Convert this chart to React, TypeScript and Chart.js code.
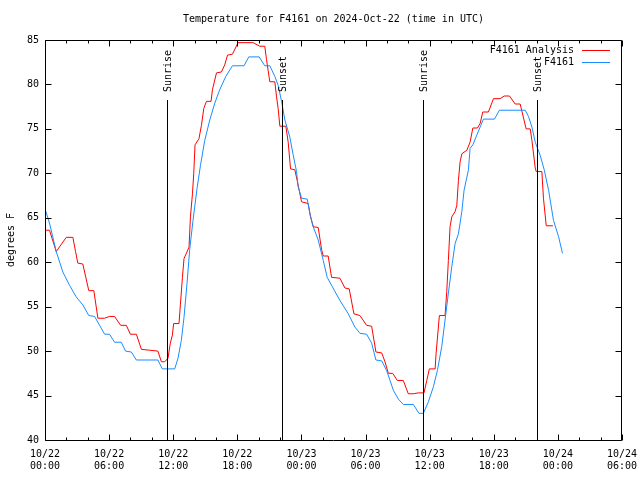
import React, { useEffect, useRef } from "react";
import { Chart, registerables } from "chart.js";

Chart.register(...registerables);

// Hours since 10/22 00:00 UTC and temperatures (degrees F)
const analysisHours = [
  0.0, 0.42, 1.05, 1.99, 2.61, 2.86, 3.07, 3.54, 4.1, 4.57, 4.95, 5.58, 6.04, 6.51, 7.08, 7.61,
  7.99, 8.55, 9.02, 9.8, 10.57, 10.89, 11.2, 11.51, 11.73, 11.92, 12.04, 12.54, 12.67, 12.86,
  13.01, 13.48, 13.61, 13.8, 13.92, 14.04, 14.41, 14.64, 14.86, 15.11, 15.54, 15.67, 16.05,
  16.51, 16.82, 17.08, 17.54, 18.07, 19.48, 20.1, 20.57, 20.73, 20.88, 21.04, 21.51, 21.67,
  21.82, 21.98, 22.54, 22.76, 22.98, 23.38, 23.6, 23.79, 24.01, 24.63, 24.85, 25.1, 25.57,
  25.89, 26.04, 26.5, 26.82, 27.6, 28.07, 28.47, 28.91, 29.48, 30.1, 30.57, 30.97, 31.51,
  31.82, 32.13, 32.54, 32.97, 33.53, 34.0, 34.47, 34.94, 35.47, 35.73, 35.97, 36.51, 36.6,
  36.91, 37.44, 37.6, 37.75, 37.91, 38.07, 38.38, 38.54, 38.69, 38.85, 39.01, 39.48, 39.78,
  40.04, 40.47, 40.72, 40.97, 41.5, 41.97, 42.6, 42.97, 43.47, 44.0, 44.47, 45.03, 45.41,
  45.57, 45.88, 45.97, 46.5, 46.65, 46.91, 47.53,
];
const analysisTemps = [
  63.6, 63.6, 61.2, 62.8, 62.8, 61.2, 59.9, 59.8, 56.8, 56.8, 53.7, 53.7, 53.9, 53.9, 52.9, 52.9,
  51.9, 51.9, 50.2, 50.1, 50.0, 48.8, 48.8, 49.2, 50.9, 51.8, 53.1, 53.1, 55.2, 58.3,
  60.4, 61.7, 65.1, 67.7, 70.0, 73.2, 73.9, 75.4, 77.3, 78.1, 78.1, 79.4, 81.3,
  81.4, 82.2, 83.3, 83.4, 84.7, 84.7, 84.3, 84.3, 82.8, 81.6, 80.3, 80.3, 78.6,
  77.3, 75.3, 75.3, 73.5, 70.5, 70.4, 69.2, 68.1, 66.8, 66.6, 65.1, 64.0, 63.9,
  61.4, 60.7, 60.7, 58.3, 58.2, 57.1, 57.0, 54.2, 54.0, 52.9, 52.8, 49.9, 49.8,
  48.8, 47.5, 47.5, 46.7, 46.7, 45.2, 45.2, 45.3, 45.3, 46.7, 48.0, 48.0, 49.7,
  54.0, 54.0, 56.7, 60.2, 64.0, 65.1, 65.7, 66.4, 69.2, 71.3, 72.2, 72.6, 73.5,
  75.1, 75.1, 75.6, 76.9, 76.9, 78.4, 78.4, 78.7, 78.7, 77.8, 77.8, 75.0, 75.0,
  73.7, 70.6, 70.2, 70.2, 67.2, 64.1, 64.1,
];

const obsHours = [
  0.0, 0.42, 1.05, 1.67, 2.3, 2.92, 3.54, 4.1, 4.64, 5.11, 5.58, 6.04, 6.51, 7.14, 7.54, 8.08,
  8.55, 10.57, 10.98, 12.14, 12.45, 12.76, 13.01, 13.29, 13.54, 13.85, 14.23, 14.55, 14.95,
  15.42, 15.89, 16.35, 16.92, 17.54, 18.63, 19.07, 20.04, 20.57, 21.04, 21.51, 21.82, 22.14,
  22.45, 22.91, 23.22, 23.54, 23.69, 24.01, 24.54, 24.79, 25.1, 25.57, 26.04, 26.41, 26.82,
  27.6, 28.38, 29.01, 29.48, 30.1, 30.57, 30.97, 31.51, 31.98, 32.29, 32.6, 33.07, 33.53,
  34.47, 35.0, 35.41, 35.88, 36.35, 36.72, 37.13, 37.44, 37.75, 38.07, 38.38, 38.69, 39.01,
  39.22, 39.63, 39.78, 40.04, 40.41, 41.03, 42.06, 42.53, 44.94, 45.25, 45.57, 45.88, 46.35,
  46.72, 47.13, 47.59, 48.06, 48.43,
];
const obsTemps = [
  66.0, 64.4, 61.2, 58.9, 57.4, 56.1, 55.2, 54.0, 53.9, 52.9, 51.9, 51.9, 51.0, 51.0, 50.0, 49.9,
  49.0, 49.0, 48.0, 48.0, 49.2, 51.2, 53.8, 57.6, 61.4, 64.7, 68.3, 70.9, 73.7,
  76.0, 77.9, 79.4, 80.9, 82.1, 82.1, 83.1, 83.1, 82.1, 82.1, 80.9, 79.9, 78.1,
  76.0, 74.1, 72.1, 70.2, 68.5, 67.2, 67.1, 65.5, 64.0, 62.5, 60.2, 58.3, 57.4,
  55.7, 54.2, 52.7, 52.0, 51.9, 50.9, 49.0, 48.9, 47.8, 46.7, 45.6, 44.6, 44.0,
  44.0, 43.0, 43.0, 44.3, 46.0, 47.8, 50.5, 53.5, 56.5, 59.5, 62.1, 63.2, 65.7,
  68.1, 70.4, 72.8, 73.2, 74.3, 76.1, 76.1, 77.1, 77.1, 76.4, 75.2, 73.5, 72.0,
  70.4, 68.1, 64.7, 62.9, 61.0,
];

const xTickLabels = [
  ["10/22", "00:00"],
  ["10/22", "06:00"],
  ["10/22", "12:00"],
  ["10/22", "18:00"],
  ["10/23", "00:00"],
  ["10/23", "06:00"],
  ["10/23", "12:00"],
  ["10/23", "18:00"],
  ["10/24", "00:00"],
  ["10/24", "06:00"],
];

const sunEventHours = [11.42, 22.14, 35.41, 46.03];
const sunEventLabels = ["Sunrise", "Sunset", "Sunrise", "Sunset"];

const seriesNames = ["F4161 Analysis", "F4161"];
const seriesColors = ["#ff0000", "#1a8cff"];
const titleText = "Temperature for F4161 on 2024-Oct-22 (time in UTC)";
const yAxisTitle = "degrees F";

const FONT_FAMILY = '"DejaVu Sans Mono", monospace';
const FONT = `10px ${FONT_FAMILY}`;

const decorPlugin = {
  id: "gnuplotDecor",
  afterDraw(chart: any) {
    const { ctx, chartArea: a, scales } = chart;
    const xs = scales.x;
    const ys = scales.y;
    const h = a.bottom - a.top;
    ctx.save();
    ctx.strokeStyle = "#000";
    ctx.fillStyle = "#000";
    ctx.lineWidth = 1;

    // frame
    const L = a.left + 0.5;
    const R = a.right - 0.5;
    const T = a.top + 0.5;
    const B = a.bottom + 0.5;
    ctx.beginPath();
    ctx.moveTo(L, T);
    ctx.lineTo(R, T);
    ctx.lineTo(R, B);
    ctx.lineTo(L, B);
    ctx.closePath();
    ctx.stroke();

    // x ticks (major 6h, minor 2h), mirrored on top
    ctx.beginPath();
    for (let t = xs.min; t <= xs.max + 1e-6; t += 2) {
      const px = Math.round(xs.getPixelForValue(t)) + 0.5;
      const len = Math.abs(t % 6) < 1e-6 ? 6 : 3;
      ctx.moveTo(px, B);
      ctx.lineTo(px, B - len);
      ctx.moveTo(px, T);
      ctx.lineTo(px, T + len);
    }
    // y ticks, mirrored on right
    for (let v = ys.min; v <= ys.max + 1e-6; v += 5) {
      const py = Math.round(ys.getPixelForValue(v)) + 0.5;
      ctx.moveTo(L, py);
      ctx.lineTo(L + 6, py);
      ctx.moveTo(R, py);
      ctx.lineTo(R - 6, py);
    }
    ctx.stroke();

    // sunrise / sunset lines
    ctx.font = FONT;
    sunEventHours.forEach((hr, i) => {
      const px = Math.round(xs.getPixelForValue(hr)) + 0.5;
      const topY = a.bottom - 0.85 * h;
      ctx.beginPath();
      ctx.moveTo(px, a.bottom);
      ctx.lineTo(px, topY);
      ctx.stroke();
      ctx.save();
      ctx.translate(px + 0.5, a.bottom - 0.87 * h);
      ctx.rotate(-Math.PI / 2);
      ctx.textAlign = "left";
      ctx.textBaseline = "middle";
      ctx.fillText(sunEventLabels[i], 0, 0);
      ctx.restore();
    });

    // legend (gnuplot style: text then sample line, top right)
    seriesNames.forEach((name, i) => {
      const y = a.top + 10 + i * 12;
      ctx.textAlign = "right";
      ctx.textBaseline = "middle";
      ctx.fillStyle = "#000";
      ctx.fillText(name, a.right - 48, y);
      ctx.strokeStyle = seriesColors[i];
      ctx.beginPath();
      ctx.moveTo(a.right - 40, Math.round(y) + 0.5);
      ctx.lineTo(a.right - 12, Math.round(y) + 0.5);
      ctx.stroke();
    });

    // title
    ctx.fillStyle = "#000";
    ctx.textAlign = "center";
    ctx.textBaseline = "middle";
    ctx.fillText(titleText, (a.left + a.right) / 2, 19);

    // y axis title
    ctx.save();
    ctx.translate(11, (a.top + a.bottom) / 2);
    ctx.rotate(-Math.PI / 2);
    ctx.textAlign = "center";
    ctx.textBaseline = "middle";
    ctx.fillText(yAxisTitle, 0, 0);
    ctx.restore();

    ctx.restore();
  },
};

export default function App() {
  const canvasRef = useRef<HTMLCanvasElement | null>(null);

  useEffect(() => {
    if (!canvasRef.current) return;
    const chart = new Chart(canvasRef.current, {
      type: "line",
      data: {
        datasets: [
          {
            label: seriesNames[0],
            data: analysisHours.map((x, i) => ({ x, y: analysisTemps[i] })),
            borderColor: seriesColors[0],
            backgroundColor: seriesColors[0],
            borderWidth: 1,
            pointRadius: 0,
            tension: 0,
            fill: false,
            order: 2,
          },
          {
            label: seriesNames[1],
            data: obsHours.map((x, i) => ({ x, y: obsTemps[i] })),
            borderColor: seriesColors[1],
            backgroundColor: seriesColors[1],
            borderWidth: 1,
            pointRadius: 0,
            tension: 0,
            fill: false,
            order: 1,
          },
        ],
      },
      options: {
        responsive: false,
        animation: false,
        devicePixelRatio: 1,
        layout: { padding: { top: 40, right: 18, left: 0, bottom: 0 } },
        plugins: {
          legend: { display: false },
          title: { display: false },
          tooltip: { enabled: false },
        },
        scales: {
          x: {
            type: "linear",
            min: 0,
            max: 54,
            grid: { display: false, drawTicks: false },
            border: { display: false },
            afterFit: (s: any) => {
              s.height = 40;
              s.paddingLeft = 0;
              s.paddingRight = 0;
            },
            ticks: {
              stepSize: 6,
              autoSkip: false,
              maxRotation: 0,
              minRotation: 0,
              padding: 8,
              color: "#000",
              font: { family: FONT_FAMILY, size: 10, lineHeight: 1.2 },
              callback: (_v: any, i: number) => xTickLabels[i],
            },
          },
          y: {
            min: 40,
            max: 85,
            grid: { display: false, drawTicks: false },
            border: { display: false },
            afterFit: (s: any) => {
              s.width = 45;
              s.paddingTop = 0;
              s.paddingBottom = 0;
            },
            ticks: {
              stepSize: 5,
              padding: 6,
              color: "#000",
              font: { family: FONT_FAMILY, size: 10 },
            },
          },
        },
      },
      plugins: [decorPlugin],
    });
    return () => chart.destroy();
  }, []);

  return (
    <div style={{ position: "absolute", left: 0, top: 0, width: 640, height: 480, background: "#fff" }}>
      <canvas ref={canvasRef} width={640} height={480} style={{ display: "block" }} />
    </div>
  );
}
